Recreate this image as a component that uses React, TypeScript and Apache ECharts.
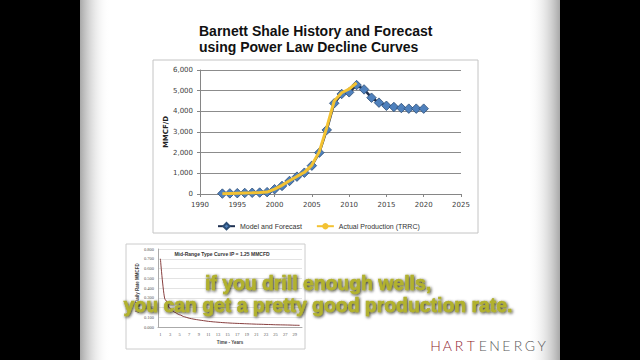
import React, { useEffect, useRef } from "react";
import * as echarts from "echarts";

const modelYears = [1993, 1994, 1995, 1996, 1997, 1998, 1999, 2000, 2001, 2002, 2003, 2004, 2005, 2006, 2007, 2008, 2009, 2010, 2011, 2012, 2013, 2014, 2015, 2016, 2017, 2018, 2019, 2020];
const modelValues = [20, 30, 40, 50, 60, 70, 90, 230, 390, 630, 840, 1030, 1370, 2000, 3100, 4390, 4840, 4920, 5270, 5060, 4660, 4420, 4270, 4210, 4160, 4130, 4130, 4130];
const actualYears = [1993, 1994, 1995, 1996, 1997, 1998, 1999, 2000, 2001, 2002, 2003, 2004, 2005, 2006, 2007, 2008, 2009, 2010, 2011];
const actualValues = [15, 25, 35, 45, 55, 70, 95, 240, 420, 640, 850, 1050, 1400, 2050, 3220, 4500, 4900, 5080, 5380];

const insetYears = [1, 2, 3, 4, 5, 6, 7, 8, 9, 10, 11, 12, 13, 14, 15, 16, 17, 18, 19, 20, 21, 22, 23, 24, 25, 26, 27, 28, 29, 30];
const insetRates = [0.7, 0.28, 0.19, 0.15, 0.125, 0.105, 0.09, 0.08, 0.072, 0.065, 0.058, 0.053, 0.049, 0.045, 0.042, 0.039, 0.037, 0.035, 0.033, 0.031, 0.029, 0.028, 0.026, 0.025, 0.023, 0.022, 0.021, 0.02, 0.018, 0.017];

const titleLines = ["Barnett Shale History and Forecast", "using Power Law Decline Curves"];
const subtitleLines = ["if you drill enough wells,", "you can get a pretty good production rate."];
const logoLetters = ["H", "A", "R", "T", "E", "N", "E", "R", "G", "Y"];

export default function App() {
  const ref = useRef<HTMLDivElement>(null);
  useEffect(() => {
    if (!ref.current) return;
    const chart = echarts.init(ref.current, null, { renderer: "svg" });
    const graphic: any[] = [
      { type: "rect", z: -10, shape: { x: 80, y: 0, width: 480, height: 360 }, style: { fill: "#ffffff" } },
      {
        type: "rect", z: -9, shape: { x: 80, y: 0, width: 30, height: 360 },
        style: { fill: new echarts.graphic.LinearGradient(0, 0, 1, 0, [{ offset: 0, color: "#a8a8a8" }, { offset: 1, color: "rgba(255,255,255,0)" }]) },
      },
      {
        type: "rect", z: -9, shape: { x: 528, y: 0, width: 32, height: 360 },
        style: { fill: new echarts.graphic.LinearGradient(0, 0, 1, 0, [{ offset: 0, color: "rgba(255,255,255,0)" }, { offset: 1, color: "#a8a8a8" }]) },
      },
      { type: "rect", z: -8, shape: { x: 153, y: 60, width: 325, height: 173 }, style: { fill: "#ffffff", stroke: "#c4c4c4", lineWidth: 1 } },
      { type: "rect", z: -8, shape: { x: 126, y: 244, width: 179, height: 105 }, style: { fill: "#ffffff", stroke: "#cccccc", lineWidth: 1 } },
      ...titleLines.map((t, i) => ({
        type: "text", x: 199, y: 31 + i * 16, z: 10,
        style: { text: t, fontSize: 14, fontWeight: "bold", fontFamily: "Liberation Sans", fill: "#111111", align: "left", verticalAlign: "middle" },
      })),
      {
        type: "text", x: 222, y: 254, z: 10,
        style: { text: "Mid-Range Type Curve IP = 1.25 MMCFD", fontSize: 5, fontWeight: "bold", fontFamily: "Liberation Sans", fill: "#333333", align: "center", verticalAlign: "middle" },
      },
      ...subtitleLines.map((t, i) => ({
        type: "text", x: 318, y: 283 + i * 22, z: 100, scaleX: 0.97,
        style: {
          text: t, fontSize: 20, fontWeight: "bold", fontFamily: "Liberation Sans", fill: "#b2b22e",
          stroke: "#a8a82a", lineWidth: 0.6,
          align: "center", verticalAlign: "middle",
          textShadowColor: "rgba(20,20,0,0.9)", textShadowBlur: 3, textShadowOffsetX: 1, textShadowOffsetY: 1,
          shadowColor: "rgba(20,20,0,0.9)", shadowBlur: 3, shadowOffsetX: 1, shadowOffsetY: 1,
        },
      })),
      ...logoLetters.map((l, i) => ({
        type: "text", x: 435.5 + i * 11.8, y: 345, z: 10,
        style: { text: l, fontSize: 14, fontWeight: 300, fontFamily: "Lato", fill: i < 4 ? "#8e1b2c" : "#5a5a5a", align: "center", verticalAlign: "middle" },
      })),
    ];

    const option: any = {
      animation: false,
      backgroundColor: "#000000",
      graphic,
      legend: {
        left: 212, top: 217, itemWidth: 17, itemHeight: 8, itemGap: 14,
        textStyle: { fontSize: 7, color: "#333333", fontFamily: "Liberation Sans" },
        data: ["Model and Forecast", "Actual Production (TRRC)"],
      },
      grid: [
        { left: 200, top: 70, right: 179, bottom: 166 },
        { left: 158, top: 249, right: 338, bottom: 33 },
      ],
      xAxis: [
        {
          gridIndex: 0, type: "value", min: 1990, max: 2025, interval: 5,
          axisLine: { show: true, lineStyle: { color: "#868686" } },
          axisTick: { show: true, length: 3, lineStyle: { color: "#868686" } },
          axisLabel: { formatter: (v: number) => String(v), fontSize: 7, color: "#404040", fontFamily: "DejaVu Sans", margin: 7 },
          splitLine: { show: false },
        },
        {
          gridIndex: 1, type: "category", data: insetYears.map(String), boundaryGap: true,
          axisLine: { lineStyle: { color: "#aaaaaa" } }, axisTick: { show: false },
          axisLabel: { interval: 1, fontSize: 4.5, color: "#555555", margin: 5, fontFamily: "Liberation Serif" },
          name: "Time - Years", nameLocation: "middle", nameGap: 13,
          nameTextStyle: { fontSize: 4.5, fontWeight: "bold", color: "#444444", fontFamily: "Liberation Sans" },
        },
      ],
      yAxis: [
        {
          gridIndex: 0, type: "value", min: 0, max: 6000, interval: 1000,
          axisLine: { show: true, lineStyle: { color: "#868686" } },
          axisTick: { show: true, length: 3, lineStyle: { color: "#868686" } },
          axisLabel: { fontSize: 7, color: "#404040", fontFamily: "DejaVu Sans", margin: 7 },
          splitLine: { lineStyle: { color: "#8c8c8c", width: 1 } },
          name: "MMCF/D", nameLocation: "middle", nameGap: 27, nameRotate: 90,
          nameTextStyle: { fontSize: 7, fontWeight: "bold", color: "#222222", fontFamily: "DejaVu Sans" },
        },
        {
          gridIndex: 1, type: "value", min: 0, max: 0.8, interval: 0.1,
          axisLine: { show: true, lineStyle: { color: "#aaaaaa" } }, axisTick: { show: false },
          axisLabel: { fontSize: 4.5, color: "#555555", margin: 4, formatter: (v: number) => v.toFixed(3), fontFamily: "Liberation Serif" },
          splitLine: { lineStyle: { color: "#d0d0d0", width: 0.6 } },
          name: "Avg Daily Rate MMCFD", nameLocation: "middle", nameGap: 15, nameRotate: 90,
          nameTextStyle: { fontSize: 4.5, fontWeight: "bold", color: "#444444", fontFamily: "Liberation Sans" },
        },
      ],
      series: [
        {
          name: "Model and Forecast", type: "line", xAxisIndex: 0, yAxisIndex: 0, z: 3,
          data: modelYears.map((y, i) => [y, modelValues[i]]),
          symbol: "diamond", symbolSize: 9.5,
          lineStyle: { color: "#1f3050", width: 2.5 },
          itemStyle: { color: "#4f81bd", borderColor: "#2c4d75", borderWidth: 0.8 },
        },
        {
          name: "Actual Production (TRRC)", type: "line", xAxisIndex: 0, yAxisIndex: 0, z: 4,
          data: actualYears.map((y, i) => [y, actualValues[i]]),
          symbol: "none",
          lineStyle: { color: "#f3c232", width: 3 },
          itemStyle: { color: "#f3c232" },
        },
        {
          name: "Type Curve", type: "line", xAxisIndex: 1, yAxisIndex: 1, z: 3,
          data: insetRates, symbol: "none", smooth: 0.3, smoothMonotone: "x",
          lineStyle: { color: "#7b2a2a", width: 0.9 },
        },
      ],
    };
    chart.setOption(option);
    return () => chart.dispose();
  }, []);
  return <div ref={ref} style={{ position: "fixed", left: 0, top: 0, width: 640, height: 360 }} />;
}
